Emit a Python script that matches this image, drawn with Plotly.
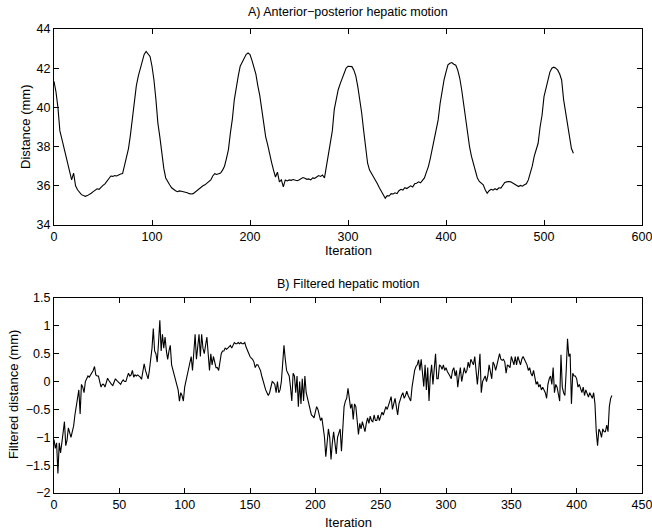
import plotly.graph_objects as go
from plotly.subplots import make_subplots

# ---------------- data ----------------
# A) Anterior-posterior hepatic motion (every 2nd iteration, 0..530)
motion_iter = list(range(0, 531, 2))
motion_mm = [
    41.33, 40.8, 40.0, 38.8, 38.4, 38.0, 37.5, 37.2, 36.8, 36.3,
    36.65, 36.0, 35.8, 35.65, 35.55, 35.5, 35.46, 35.5, 35.55, 35.62,
    35.7, 35.78, 35.85, 35.82, 35.95, 36.02, 36.1, 36.25, 36.4, 36.5,
    36.48, 36.52, 36.5, 36.56, 36.6, 36.62, 37.0, 37.5, 37.9, 38.6,
    39.4, 40.5, 41.1, 41.6, 42.0, 42.4, 42.7, 42.86, 42.75, 42.6,
    42.1, 41.4, 40.4, 39.2, 38.5, 37.6, 36.9, 36.4, 36.2, 36.05,
    35.9, 35.8, 35.75, 35.7, 35.74, 35.72, 35.7, 35.68, 35.65, 35.6,
    35.58, 35.6, 35.68, 35.78, 35.88, 35.95, 36.0, 36.05, 36.12, 36.2,
    36.3, 36.5, 36.62, 36.58, 36.62, 36.65, 36.8, 37.0, 37.4, 37.85,
    38.7, 39.4, 40.4, 41.1, 41.6, 42.1, 42.3, 42.5, 42.7, 42.78,
    42.7, 42.4, 42.1, 41.7, 41.1, 40.6, 39.9, 39.1, 38.5, 38.1,
    37.6, 37.2, 36.8, 36.45, 36.7, 36.2, 36.3, 35.95, 36.3, 36.25,
    36.3, 36.28, 36.32, 36.3, 36.26, 36.3, 36.36, 36.42, 36.38, 36.33,
    36.35, 36.3, 36.4, 36.38, 36.45, 36.52, 36.48, 36.55, 36.4, 37.0,
    37.66, 38.3, 38.8, 39.9, 40.4, 40.9, 41.2, 41.5, 41.8, 42.0,
    42.1, 42.1, 42.08, 41.9, 41.6, 41.06, 40.4, 39.7, 38.8, 37.9,
    37.15, 36.8, 36.64, 36.45, 36.3, 36.1, 35.9, 35.7, 35.5, 35.37,
    35.5, 35.48, 35.6, 35.58, 35.64, 35.6, 35.75, 35.82, 35.78, 35.9,
    35.86, 35.92, 36.0, 35.94, 36.1, 36.13, 36.2, 36.15, 36.28, 36.4,
    36.7, 36.98, 37.4, 37.9, 38.5, 38.9, 39.36, 40.2, 40.9, 41.4,
    41.8, 42.17, 42.25, 42.29, 42.2, 42.15, 41.9, 41.5, 40.9, 40.2,
    39.5, 38.6, 38.0, 37.5, 37.15, 36.7, 36.4, 36.22, 36.15, 36.05,
    35.8, 35.62, 35.75, 35.82, 35.78, 35.85, 35.8, 35.9, 35.88, 36.0,
    36.17, 36.2, 36.22, 36.2, 36.15, 36.1, 36.05, 35.96, 36.02, 35.98,
    36.05, 36.1, 36.3, 36.6, 37.0, 37.5, 37.9, 38.17, 39.0, 39.6,
    40.55, 41.0, 41.4, 41.8, 42.0, 42.05, 42.0, 41.9, 41.7, 41.4,
    40.4, 39.8, 39.0, 38.5, 37.9, 37.66,
]

# B) Filtered hepatic motion (every iteration, 0..427)
filt_iter = list(range(0, 428))
filt_mm = [
    -1.04, -1.2, -1.1, -1.65, -1.1, -1.28, -1.1, -0.95, -0.72, -1.15,
    -1.05, -0.83, -0.95, -1.0, -0.9, -0.8, -0.6, -0.4, -0.3, -0.15,
    -0.58, -0.05, -0.1, -0.2, 0.0, 0.05, 0.1, 0.08, 0.12, 0.15,
    0.2, 0.27, 0.12, 0.1, 0.1, 0.0, -0.1, -0.05, -0.05, -0.1,
    -0.02, 0.06, 0.02, -0.02, -0.05, -0.07, 0.0, 0.05, 0.02, 0.0,
    -0.03, -0.05, 0.0, 0.03, 0.0, 0.0, 0.08, 0.15, 0.1, 0.12,
    0.2, 0.08, 0.12, 0.1, 0.12, 0.1, 0.08, 0.04, 0.15, 0.32,
    0.2, 0.1, 0.05, 0.2, 0.4, 0.6, 0.95, 0.55, 0.5, 0.35,
    0.7, 1.1, 0.55, 0.85, 0.6, 0.8, 0.55, 0.4, 0.55, 0.65,
    0.3, 0.2, 0.15, 0.0, -0.1, -0.15, -0.35, -0.2, -0.25, -0.35,
    -0.1, 0.0, 0.1, 0.2, 0.3, 0.45, 0.2, 0.5, 0.85, 0.4,
    0.6, 0.85, 0.45, 0.85, 0.6, 0.5, 0.65, 0.8, 0.5, 0.2,
    0.5, 0.3, 0.45, 0.35, 0.25, 0.25, 0.2, 0.35, 0.5, 0.55,
    0.55, 0.6, 0.58, 0.6, 0.62, 0.65, 0.6, 0.65, 0.7, 0.68,
    0.68, 0.7, 0.68, 0.7, 0.68, 0.68, 0.7, 0.62, 0.55, 0.5,
    0.45, 0.42, 0.4, 0.35, 0.25, 0.3, 0.3, 0.25, 0.2, 0.1,
    0.0, -0.1, -0.15, -0.2, -0.25, -0.2, -0.1, 0.0, -0.02, -0.05,
    -0.2, 0.0, -0.2, -0.15, 0.0, 0.3, 0.65, 0.4, 0.2, 0.15,
    0.1, -0.1, -0.35, 0.15, 0.1, -0.2, 0.1, -0.45, 0.0, -0.4,
    0.05, -0.35, 0.1, -0.2, -0.3, -0.45, -0.5, -0.6, -0.62, -0.65,
    -0.55, -0.45, -0.5, -0.6, -0.7, -0.65, -0.8, -1.0, -1.35, -1.1,
    -0.85, -1.0, -1.4, -1.1, -0.9, -1.1, -1.3, -1.0, -0.9, -0.85,
    -1.25, -0.9, -0.45, -0.35, -0.3, -0.12, -0.3, -0.48, -0.4, -0.68,
    -0.4, -0.45, -0.7, -0.95, -0.75, -0.85, -0.72, -0.8, -0.9, -0.75,
    -0.65, -0.75, -0.62, -0.7, -0.72, -0.6, -0.7, -0.7, -0.6, -0.7,
    -0.62, -0.55, -0.6, -0.5, -0.45, -0.5, -0.4, -0.35, -0.27, -0.5,
    -0.4, -0.3, -0.45, -0.6, -0.4, -0.3, -0.25, -0.2, -0.3, -0.25,
    -0.17, -0.25, -0.3, -0.35, -0.1, 0.1, 0.2, 0.27, 0.3, 0.39,
    0.2, 0.4, 0.15, -0.09, 0.3, -0.15, 0.25, -0.35, 0.1, 0.3,
    -0.05, 0.2, 0.5, 0.05, 0.05, 0.3, 0.28, 0.22, 0.3, 0.2,
    0.25, 0.18, 0.15, 0.1, 0.05, 0.2, 0.25, 0.1, 0.2, -0.1,
    0.1, 0.25, 0.0, 0.1, 0.25, 0.15, 0.2, 0.35, 0.25, 0.4,
    0.35, 0.3, 0.45, 0.2, -0.05, 0.2, 0.5, -0.2, 0.0, 0.05,
    0.1, 0.0, 0.1, 0.3, 0.2, 0.05, 0.35, 0.3, 0.2, 0.3,
    0.45, 0.5, 0.4, 0.38, 0.4, 0.35, 0.15, 0.3, 0.28, 0.25,
    0.45, 0.35, 0.3, 0.45, 0.3, 0.45, 0.35, 0.3, 0.4, 0.45,
    0.4, 0.35, 0.3, 0.2, 0.25, 0.15, 0.1, 0.2, 0.05, -0.05,
    0.0, -0.1, -0.05, -0.15, -0.1, -0.15, -0.2, -0.3, -0.05, 0.05,
    0.1, -0.05, 0.25, -0.2, -0.05, -0.1, -0.25, -0.35, 0.48, -0.1,
    -0.2, -0.25, 0.2, 0.77, 0.45, 0.5, -0.4, 0.15, 0.1, 0.1,
    0.05, -0.1, -0.05, -0.15, -0.2, -0.1, -0.25, -0.15, -0.2, -0.28,
    -0.2, -0.25, -0.3, -0.2, -0.4, -0.9, -1.15, -0.85, -0.9, -1.0,
    -0.85, -0.9, -0.9, -0.78, -0.9, -0.45, -0.3, -0.25,
]

top_xticks = [0, 100, 200, 300, 400, 500, 600]
top_yticks = [34, 36, 38, 40, 42, 44]
bot_xticks = [0, 50, 100, 150, 200, 250, 300, 350, 400, 450]
bot_yticks = [-2, -1.5, -1, -0.5, 0, 0.5, 1, 1.5]
bot_ytext = ["\u22122", "\u22121.5", "\u22121", "\u22120.5", "0", "0.5", "1", "1.5"]

title_a = "A) Anterior\u2212posterior hepatic motion"
title_b = "B) Filtered hepatic motion"

# ---------------- figure ----------------
FONT = "Liberation Sans, Arial, Helvetica, sans-serif"
W, H = 652, 531
L, R, T, B = 54, 10, 29, 38
ph = H - T - B

def py(p):
    return (H - B - p) / ph

fig = make_subplots(rows=2, cols=1)
fig.add_trace(go.Scatter(x=motion_iter, y=motion_mm, mode="lines",
                         line=dict(color="black", width=1.1), showlegend=False),
              row=1, col=1)
fig.add_trace(go.Scatter(x=filt_iter, y=filt_mm, mode="lines",
                         line=dict(color="black", width=1.1), showlegend=False),
              row=2, col=1)

axis_common = dict(showgrid=False, zeroline=False, showline=True, mirror="allticks",
                   linecolor="black", linewidth=1, ticks="inside", ticklen=5,
                   tickcolor="black", tickwidth=1, automargin=False,
                   ticklabeloverflow="allow",
                   tickfont=dict(family=FONT, size=12.5, color="black"))

fig.update_layout(
    width=W, height=H,
    margin=dict(l=L, r=R, t=T, b=B, autoexpand=False),
    paper_bgcolor="white", plot_bgcolor="white",
    font=dict(family=FONT, size=11, color="black"),
    xaxis=dict(domain=[0, 1], range=[0, 600], tickvals=top_xticks, **axis_common),
    yaxis=dict(domain=[py(225), 1], range=[34, 44], tickvals=top_yticks, **axis_common),
    xaxis2=dict(domain=[0, 1], range=[0, 450], tickvals=bot_xticks, **axis_common),
    yaxis2=dict(domain=[0, py(298)], range=[-2, 1.5], tickvals=bot_yticks,
                ticktext=bot_ytext, **axis_common),
)

ann = [
    dict(text=title_a, x=0.5, y=py(12), size=12.5),
    dict(text=title_b, x=0.5, y=py(284), size=12.5),
    dict(text="Iteration", x=0.5, y=py(250), size=13),
    dict(text="Iteration", x=0.5, y=py(522), size=13),
]
for a in ann:
    fig.add_annotation(text=a["text"], x=a["x"], y=a["y"], xref="paper", yref="paper",
                       xanchor="center", yanchor="middle", showarrow=False,
                       font=dict(family=FONT, size=a["size"], color="black"))

fig.add_annotation(text="Distance (mm)", x=(26 - L) / (W - L - R), y=py(127),
                   xref="paper", yref="paper", textangle=-90, showarrow=False,
                   xanchor="center", yanchor="middle",
                   font=dict(family=FONT, size=13, color="black"))
fig.add_annotation(text="Filtered distance (mm)", x=(13 - L) / (W - L - R), y=py(395),
                   xref="paper", yref="paper", textangle=-90, showarrow=False,
                   xanchor="center", yanchor="middle",
                   font=dict(family=FONT, size=13, color="black"))

fig.write_html("out.html", config={"displayModeBar": False},
               post_script="document.body.style.margin='0';document.body.style.overflow='hidden';")
